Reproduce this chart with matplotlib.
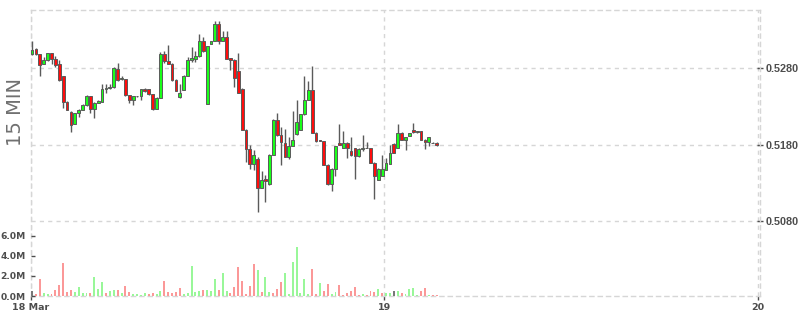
import matplotlib
matplotlib.use('Agg')
import matplotlib.pyplot as plt
import numpy as np

# 15 分钟 K 线 (18 Mar -> 19)
opens = [0.52989, 0.53055, 0.52989, 0.52859, 0.52911, 0.53002, 0.52924, 0.52859, 0.52693, 0.52362,
         0.52226, 0.52075, 0.52209, 0.52257, 0.52314, 0.52431, 0.52261, 0.52349, 0.52362, 0.52532,
         0.52540, 0.52553, 0.52793, 0.52654, 0.52654, 0.52444, 0.52388, 0.52431, 0.52431, 0.52523,
         0.52523, 0.52457, 0.52265, 0.52414, 0.52989, 0.52893, 0.52859, 0.52650, 0.52422, 0.52519,
         0.52702, 0.52915, 0.52919, 0.52963, 0.53159, 0.52336, 0.53120, 0.53159, 0.53381, 0.53159,
         0.53215, 0.52932, 0.52915, 0.52762, 0.52532, 0.51996, 0.51748, 0.51552, 0.51617, 0.51238,
         0.51347, 0.51281, 0.51669, 0.52127, 0.51922, 0.51826, 0.51638, 0.51782, 0.51935, 0.51996,
         0.52196, 0.52388, 0.52510, 0.51957, 0.51856, 0.51847, 0.51539, 0.51281, 0.51486, 0.51821,
         0.51756, 0.51826, 0.51716, 0.51756, 0.51647, 0.51748, 0.51756, 0.51756, 0.51565, 0.51343,
         0.51395, 0.51473, 0.51552, 0.51813, 0.51756, 0.51957, 0.51856, 0.51912, 0.51996, 0.51961,
         0.51974, 0.51865, 0.51830, 0.51826, 0.51826]
highs = [0.53154, 0.53068, 0.52993, 0.52954, 0.53006, 0.53006, 0.52967, 0.52911, 0.52693, 0.52366,
         0.52235, 0.52216, 0.52261, 0.52336, 0.52454, 0.52438, 0.52353, 0.52388, 0.52597, 0.52597,
         0.52597, 0.52814, 0.52872, 0.52693, 0.52660, 0.52451, 0.52438, 0.52438, 0.52529, 0.52540,
         0.52529, 0.52464, 0.52418, 0.53019, 0.53033, 0.53111, 0.52869, 0.52654, 0.52597, 0.52706,
         0.52945, 0.53085, 0.53033, 0.53251, 0.53206, 0.53091, 0.53163, 0.53425, 0.53425, 0.53294,
         0.53294, 0.52934, 0.52921, 0.52997, 0.52536, 0.52000, 0.51791, 0.51735, 0.51634, 0.51451,
         0.51399, 0.51673, 0.52131, 0.52213, 0.52030, 0.52009, 0.51899, 0.52239, 0.52379, 0.52203,
         0.52693, 0.52631, 0.52836, 0.51961, 0.51863, 0.51850, 0.51543, 0.51490, 0.51784, 0.52065,
         0.51978, 0.51830, 0.51899, 0.51758, 0.51752, 0.51922, 0.51830, 0.51758, 0.51569, 0.51490,
         0.51660, 0.51621, 0.51791, 0.51817, 0.52065, 0.51961, 0.51902, 0.51954, 0.52082, 0.51980,
         0.51976, 0.51869, 0.51902, 0.51830, 0.51830]
lows = [0.52980, 0.52980, 0.52697, 0.52850, 0.52902, 0.52859, 0.52814, 0.52640, 0.52278, 0.52248,
        0.51965, 0.52065, 0.52161, 0.52248, 0.52301, 0.52218, 0.52148, 0.52340, 0.52353, 0.52474,
        0.52529, 0.52542, 0.52640, 0.52647, 0.52438, 0.52349, 0.52314, 0.52422, 0.52388, 0.52484,
        0.52451, 0.52248, 0.52261, 0.52412, 0.52872, 0.52850, 0.52640, 0.52497, 0.52409, 0.52510,
        0.52693, 0.52885, 0.52889, 0.52954, 0.53019, 0.52333, 0.53117, 0.53157, 0.53120, 0.53157,
        0.52921, 0.52784, 0.52553, 0.52477, 0.51993, 0.51573, 0.51486, 0.51464, 0.50919, 0.51229,
        0.51050, 0.51275, 0.51667, 0.51909, 0.51539, 0.51634, 0.51608, 0.51778, 0.51928, 0.51993,
        0.52190, 0.52379, 0.51954, 0.51837, 0.51843, 0.51536, 0.51275, 0.51194, 0.51390, 0.51791,
        0.51752, 0.51621, 0.51647, 0.51356, 0.51641, 0.51716, 0.51752, 0.51562, 0.51094, 0.51333,
        0.51386, 0.51464, 0.51549, 0.51693, 0.51752, 0.51863, 0.51735, 0.51909, 0.51954, 0.51954,
        0.51863, 0.51748, 0.51784, 0.51817, 0.51784]
closes = [0.53042, 0.52989, 0.52846, 0.52911, 0.53002, 0.52924, 0.52846, 0.52650, 0.52362, 0.52257,
          0.52061, 0.52209, 0.52257, 0.52323, 0.52431, 0.52265, 0.52349, 0.52366, 0.52532, 0.52540,
          0.52553, 0.52801, 0.52650, 0.52676, 0.52444, 0.52388, 0.52431, 0.52431, 0.52523, 0.52506,
          0.52457, 0.52265, 0.52414, 0.52989, 0.52893, 0.52859, 0.52650, 0.52501, 0.52480, 0.52702,
          0.52915, 0.52932, 0.52963, 0.53159, 0.53029, 0.53089, 0.53159, 0.53381, 0.53159, 0.53215,
          0.52924, 0.52915, 0.52673, 0.52480, 0.51996, 0.51748, 0.51543, 0.51660, 0.51238, 0.51343,
          0.51324, 0.51669, 0.52127, 0.51922, 0.51834, 0.51638, 0.51782, 0.51865, 0.52095, 0.52196,
          0.52388, 0.52519, 0.51957, 0.51843, 0.51847, 0.51539, 0.51281, 0.51486, 0.51778, 0.51800,
          0.51821, 0.51756, 0.51660, 0.51647, 0.51748, 0.51761, 0.51761, 0.51565, 0.51386, 0.51486,
          0.51486, 0.51560, 0.51695, 0.51695, 0.51957, 0.51865, 0.51899, 0.51952, 0.51961, 0.51974,
          0.51865, 0.51830, 0.51899, 0.51821, 0.51791]

# 成交量 (百万) 及颜色方向: u=涨, d=跌, f=平
volumes_m = [0.45, 0.16, 1.71, 0.26, 0.16, 0.16, 0.55, 1.13, 3.26, 0.35,
             0.55, 0.35, 0.94, 0.26, 0.26, 0.26, 1.90, 0.74, 1.42, 0.26,
             0.45, 0.55, 0.55, 0.26, 1.03, 0.35, 0.16, 0.16, 0.10, 0.26,
             0.16, 0.26, 0.16, 0.45, 1.52, 0.35, 0.26, 0.35, 0.84, 0.16,
             0.26, 2.97, 0.35, 0.45, 0.55, 0.55, 0.45, 1.71, 0.55, 2.29,
             0.45, 0.26, 0.94, 2.87, 1.52, 0.16, 1.03, 3.16, 2.58, 0.35,
             1.90, 0.35, 0.26, 0.65, 1.42, 2.29, 0.16, 3.35, 4.90, 0.26,
             1.71, 0.16, 2.68, 0.16, 1.32, 0.45, 1.23, 0.16, 0.35, 1.13,
             0.06, 0.26, 0.45, 0.94, 0.06, 0.16, 0.06, 0.45, 0.35, 0.74,
             0.26, 0.26, 0.26, 0.45, 0.45, 0.26, 0.16, 0.74, 0.84, 0.06,
             0.45, 0.84, 0.06, 0.06, 0.06]
vol_dirs = ("fdduudddddduuuuduuud"
            "uududdu" "uuuddu" "uddddduuuuudu" "uuduudddd"
            "ddduduuddduuuuuuudduddu" "uddddddudddudu" "ufuduuuuddudd")

price_ticks = [0.5080, 0.5180, 0.5280]
vol_ticks = [0, 2, 4, 6]
date_ticks = [-0.4, 90.5, 186.5]
date_labels = ['18 Mar', '19', '20']

GREEN = '#1aff1a'
RED = '#ff0d0d'
EDGE = '#5a5a5a'
GRID = '#d6d6d6'
TXT = '#4d4d4d'

fig = plt.figure(figsize=(8, 3.15), dpi=100)
fig.patch.set_facecolor('white')

left, width = 30.5 / 800, 729 / 800
bottom = 19 / 315
ax = fig.add_axes([left, bottom, width, 286 / 315])
vax = fig.add_axes([left, bottom, width, 75 / 315])

o = np.array(opens)
h = np.array(highs)
l = np.array(lows)
c = np.array(closes)
x = np.arange(len(o))
up = c >= o

# 影线
ax.vlines(x, l, h, color=EDGE, linewidth=1.0, zorder=3)
# 实体
ax.bar(x, np.abs(c - o), bottom=np.minimum(o, c), width=0.72,
       color=np.where(up, GREEN, RED), edgecolor=EDGE, linewidth=0.7, zorder=4)

ax.set_xlim(-0.4, 187.0)
ax.set_ylim(0.498177, 0.535636)
ax.set_yticks(price_ticks)
ax.set_yticklabels(['%.4f' % v for v in price_ticks], fontweight='bold',
                   family=['Liberation Sans', 'DejaVu Sans'])
ax.yaxis.tick_right()
ax.set_xticks(date_ticks)
ax.set_xticklabels(date_labels, fontweight='bold')
ax.tick_params(axis='y', direction='inout', length=5, width=1, colors=TXT,
               labelsize=7.8, pad=2)
ax.tick_params(axis='x', direction='out', length=3, width=1, colors=TXT,
               labelsize=6.8, pad=2)
ax.grid(True, color=GRID, linestyle=(0, (3, 3)), linewidth=1, zorder=0)
ax.set_axisbelow(True)
for sp in ax.spines.values():
    sp.set_color(GRID)
    sp.set_linestyle((0, (3, 3)))
    sp.set_linewidth(1)

# 成交量
vcol = {'u': '#99f799', 'd': '#fb9898', 'f': '#787878'}
vax.bar(x, volumes_m, width=0.5, color=[vcol[d] for d in vol_dirs], zorder=2)
vax.set_xlim(ax.get_xlim())
vax.set_ylim(0, 7.44)
vax.set_yticks(vol_ticks)
vax.set_yticklabels(['%.1fM' % v for v in vol_ticks], fontweight='bold')
vax.tick_params(axis='y', direction='in', length=3, width=1, colors=TXT,
                labelsize=6.6, pad=3.3)
vax.set_xticks([])
vax.patch.set_alpha(0)
for sp in vax.spines.values():
    sp.set_visible(False)

fig.text(15.8 / 800, 1 - 111.7 / 315, '15 MIN', rotation=90, ha='center',
         va='center', fontsize=14, color='#707070')

fig.savefig('out.png', dpi=100, facecolor='white')
